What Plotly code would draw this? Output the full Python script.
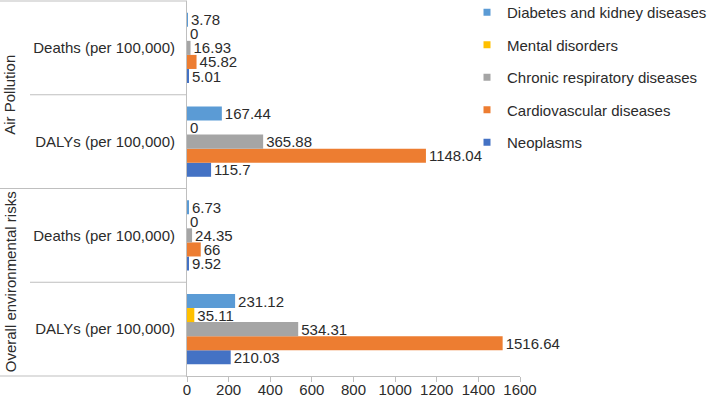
import plotly.graph_objects as go

categories = ["OE|DALYs", "OE|Deaths", "AP|DALYs", "AP|Deaths"]  # bottom -> top
category_labels = ["DALYs (per 100,000)", "Deaths (per 100,000)",
                   "DALYs (per 100,000)", "Deaths (per 100,000)"]
group_labels = ["Air Pollution", "Overall environmental risks"]

series_names = ["Neoplasms", "Cardiovascular diseases", "Chronic respiratory diseases",
                "Mental disorders", "Diabetes and kidney diseases"]
neoplasms = [210.03, 9.52, 115.7, 5.01]
cardio = [1516.64, 66, 1148.04, 45.82]
chronic = [534.31, 24.35, 365.88, 16.93]
mental = [35.11, 0, 0, 0]
diabetes = [231.12, 6.73, 167.44, 3.78]
series_values = [neoplasms, cardio, chronic, mental, diabetes]
colors = ["#4472C4", "#ED7D31", "#A5A5A5", "#FFC000", "#5B9BD5"]

x_ticks = [0, 200, 400, 600, 800, 1000, 1200, 1400, 1600]

FONT = "Liberation Sans, Arial, sans-serif"
TXT = "#2B2B2B"
LINE = "#BFBFBF"

fig = go.Figure()
for name, vals, col in zip(series_names, series_values, colors):
    fig.add_trace(go.Bar(
        y=categories, x=vals, orientation="h", name=name,
        marker=dict(color=col, line=dict(width=0)),
        text=[f"{v:g}" for v in vals], textposition="outside",
        textfont=dict(family=FONT, size=15, color=TXT),
        constraintext="none", cliponaxis=False, showlegend=False,
    ))
# legend entries, top to bottom
for i, (name, col) in enumerate(zip(series_names[::-1], colors[::-1])):
    fig.add_trace(go.Scatter(
        x=[None], y=[None], mode="markers", name=name, legendgroup=f"g{i}",
        marker=dict(symbol="square", size=7, color=col),
        showlegend=True,
    ))

W, H = 709, 398
L, R, T, B = 187, 189, 1, 22
pw = W - L - R
ph = H - T - B
fig.update_layout(
    width=W, height=H,
    margin=dict(l=L, r=R, t=T, b=B, pad=0, autoexpand=False),
    paper_bgcolor="white", plot_bgcolor="white",
    barmode="group", bargap=0.25, bargroupgap=0,
    font=dict(family=FONT, size=15, color=TXT),
    legend=dict(xref="container", yref="paper", x=467 / W, y=1 + 5 / ph,
                xanchor="left", yanchor="top",
                traceorder="grouped", tracegroupgap=10,
                font=dict(family=FONT, size=15, color=TXT),
                bgcolor="rgba(0,0,0,0)", itemwidth=30),
    xaxis=dict(range=[0, 1600], tickvals=x_ticks, showgrid=False, zeroline=False,
               showline=True, linecolor=LINE, linewidth=1,
               ticks="",
               minor=dict(tickvals=x_ticks, ticks="outside", ticklen=5, tickcolor=LINE,
                          showgrid=False),
               tickfont=dict(family=FONT, size=15, color=TXT)),
    yaxis=dict(type="category", categoryorder="array", categoryarray=categories,
               tickvals=categories, ticktext=category_labels,
               showgrid=False, showline=True, linecolor=LINE, linewidth=1,
               ticks="outside", ticklen=8, tickcolor="rgba(0,0,0,0)",
               tickfont=dict(family=FONT, size=15, color=TXT)),
)

x_left = -L / pw
x_sub = (30 - L) / pw
for y0, xs in [(1, x_left), (0.75, x_sub), (0.5, x_left), (0.25, x_sub), (0, x_left)]:
    fig.add_shape(type="line", xref="paper", yref="paper", x0=xs, x1=0, y0=y0, y1=y0,
                  line=dict(color=LINE, width=1))

for label, yc in zip(group_labels, [0.75, 0.25]):
    fig.add_annotation(text=label, xref="paper", yref="paper", x=(10 - L) / pw, y=yc,
                       xanchor="center", yanchor="middle", textangle=-90, showarrow=False,
                       font=dict(family=FONT, size=15, color=TXT))

fig.write_html("out.html", config={"displayModeBar": False},
               post_script="document.body.style.margin='0';")
